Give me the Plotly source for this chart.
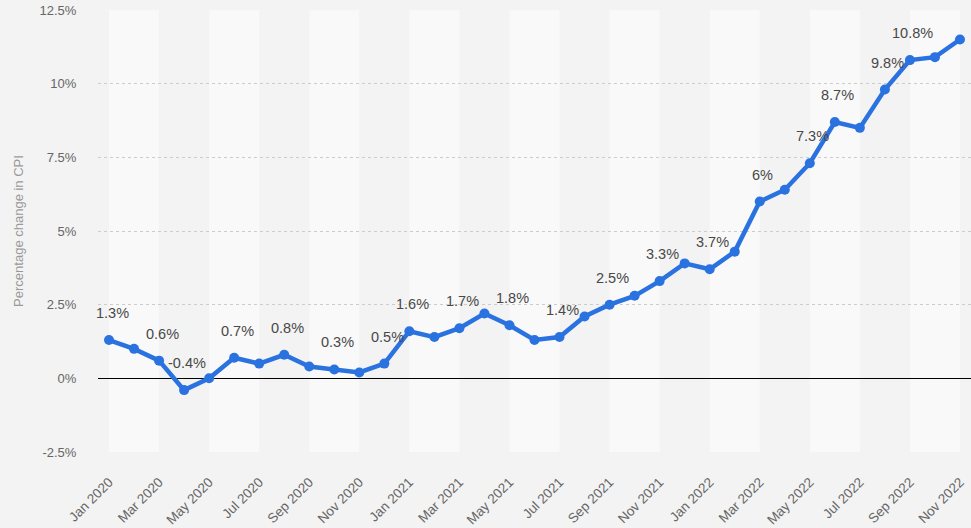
import plotly.graph_objects as go

months = ["Jan", "Feb", "Mar", "Apr", "May", "Jun", "Jul", "Aug", "Sep", "Oct", "Nov", "Dec"]
categories = [f"{m} {y}" for y in (2020, 2021, 2022) for m in months][:35]

cpi_change = [1.3, 1.0, 0.6, -0.4, 0.0, 0.7, 0.5, 0.8, 0.4, 0.3, 0.2, 0.5,
              1.6, 1.4, 1.7, 2.2, 1.8, 1.3, 1.4, 2.1, 2.5, 2.8, 3.3, 3.9,
              3.7, 4.3, 6.0, 6.4, 7.3, 8.7, 8.5, 9.8, 10.8, 10.9, 11.5]

show_label = [1, 0, 1, 1, 0, 1, 0, 1, 0, 1, 0, 1,
              1, 0, 1, 0, 1, 0, 1, 0, 1, 0, 1, 0,
              1, 0, 1, 0, 1, 1, 0, 1, 1, 0, 0]

y_tick_vals = [-2.5, 0, 2.5, 5, 7.5, 10, 12.5]
y_tick_text = ["-2.5%", "0%", "2.5%", "5%", "7.5%", "10%", "12.5%"]
x_tick_vals = categories[::2]

BLUE = "#2a72e0"
FONT = "Liberation Sans, Arial, sans-serif"

fig = go.Figure()
fig.add_trace(go.Scatter(
    x=categories, y=cpi_change, mode="lines+markers",
    line=dict(color=BLUE, width=4.5),
    marker=dict(color=BLUE, size=10),
    hoverinfo="x+y", showlegend=False,
))

def fmt(v):
    s = f"{v:.1f}"
    if s.endswith(".0"):
        s = s[:-2]
    return s + "%"

annotations = []
for c, v, f in zip(categories, cpi_change, show_label):
    if f:
        annotations.append(dict(x=c, y=v, text=fmt(v), showarrow=False,
                                xshift=3, yshift=27,
                                font=dict(family=FONT, size=14.5, color="#484848")))

shapes = []
n = len(categories)
for i in range(0, n, 4):
    shapes.append(dict(type="rect", xref="x", yref="paper", x0=i, x1=i + 2,
                       y0=0, y1=1, fillcolor="#f9f9f9", line=dict(width=0),
                       layer="below"))

fig.update_layout(
    width=971, height=528,
    margin=dict(l=98, r=0, t=10, b=76),
    paper_bgcolor="#f3f3f3", plot_bgcolor="#f3f3f3",
    font=dict(family=FONT, color="#666"),
    shapes=shapes, annotations=annotations,
    xaxis=dict(
        type="category", categoryorder="array", categoryarray=categories,
        range=[-0.44, n - 1 + 0.44], automargin=False,
        tickmode="array", tickvals=x_tick_vals, tickangle=-45,
        showgrid=False, zeroline=False, showline=False,
        ticks="outside", ticklen=16, tickcolor="rgba(0,0,0,0)",
        tickfont=dict(size=13.5, color="#666"),
    ),
    yaxis=dict(
        range=[-2.5, 12.5], tickmode="array", tickvals=y_tick_vals,
        ticktext=y_tick_text, automargin=False,
        showgrid=True, gridcolor="#cccccc", griddash="dot", gridwidth=1,
        zeroline=True, zerolinecolor="#000", zerolinewidth=1.2,
        showline=False,
        ticks="outside", ticklen=18, tickcolor="rgba(0,0,0,0)",
        tickfont=dict(size=13, color="#666"),
        title=dict(text="Percentage change in CPI", standoff=12,
                   font=dict(size=13, color="#999")),
    ),
)

fig.write_html("out.html")
